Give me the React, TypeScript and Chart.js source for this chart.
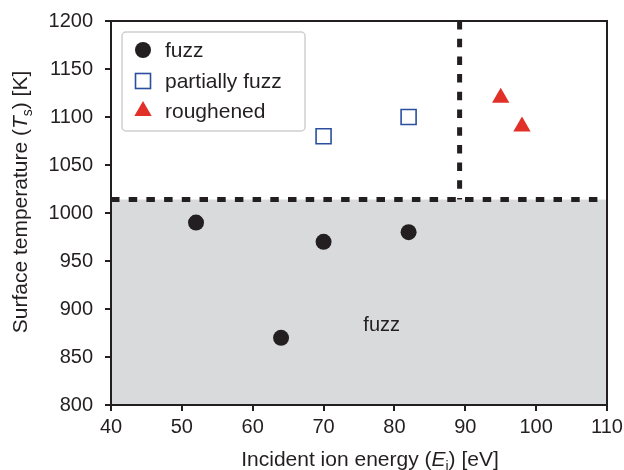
import React, { useEffect, useRef } from "react";
import { Chart, registerables } from "chart.js";

Chart.register(...registerables);

// ---- data ----
const fuzzEnergy = [52, 64, 70, 82];
const fuzzTemp = [990, 870, 970, 980];
const partialEnergy = [70, 82];
const partialTemp = [1080, 1100];
const roughEnergy = [95, 98];
const roughTemp = [1120, 1090];

const seriesLabels = ["fuzz", "partially fuzz", "roughened"];
const xTickValues = [40, 50, 60, 70, 80, 90, 100, 110];
const yTickValues = [800, 850, 900, 950, 1000, 1050, 1100, 1150, 1200];

const tempThreshold = 1014;
const energyThreshold = 89.2;
const regionText = "fuzz";
const regionTextAt = [78.2, 883];

const FONT = "'Liberation Sans', Arial, Helvetica, sans-serif";
const INK = "#231f20";
const BLUE = "#2b4f9e";
const RED = "#e03028";
const GRAY = "#d9dadc";

function toPts(xs: number[], ys: number[]) {
  return xs.map((x, i) => ({ x, y: ys[i] }));
}

function drawMarker(ctx: CanvasRenderingContext2D, kind: string, x: number, y: number) {
  ctx.save();
  if (kind === "circle") {
    ctx.fillStyle = INK;
    ctx.beginPath();
    ctx.arc(x, y, 8, 0, Math.PI * 2);
    ctx.fill();
  } else if (kind === "rect") {
    ctx.strokeStyle = BLUE;
    ctx.lineWidth = 1.6;
    const s = 7.5;
    ctx.strokeRect(x - s, y - s, 2 * s, 2 * s);
  } else {
    ctx.fillStyle = RED;
    const r = 10;
    ctx.beginPath();
    ctx.moveTo(x, y - r);
    ctx.lineTo(x + r * 0.866, y + r * 0.5);
    ctx.lineTo(x - r * 0.866, y + r * 0.5);
    ctx.closePath();
    ctx.fill();
  }
  ctx.restore();
}

function drawRich(
  ctx: CanvasRenderingContext2D,
  parts: { t: string; style?: string }[],
  x: number,
  y: number,
  size: number
) {
  const fontFor = (s?: string) =>
    s === "it" ? `italic ${size}px ${FONT}` : s === "sub" ? `${Math.round(size * 0.68)}px ${FONT}` : `${size}px ${FONT}`;
  let total = 0;
  for (const p of parts) {
    ctx.font = fontFor(p.style);
    total += ctx.measureText(p.t).width;
  }
  let cx = x - total / 2;
  for (const p of parts) {
    ctx.font = fontFor(p.style);
    const dy = p.style === "sub" ? size * 0.22 : 0;
    ctx.fillText(p.t, cx, y + dy);
    cx += ctx.measureText(p.t).width;
  }
}

const overlay = {
  id: "overlay",
  beforeDatasetsDraw(chart: any) {
    const { ctx, chartArea, scales } = chart;
    const xs = scales.x;
    const ys = scales.y;
    const yT = ys.getPixelForValue(tempThreshold);
    ctx.save();
    ctx.fillStyle = GRAY;
    ctx.fillRect(chartArea.left, yT, chartArea.right - chartArea.left, chartArea.bottom - yT);
    ctx.fillStyle = INK;
    ctx.font = `20px ${FONT}`;
    ctx.textAlign = "center";
    ctx.textBaseline = "middle";
    ctx.fillText(regionText, xs.getPixelForValue(regionTextAt[0]), ys.getPixelForValue(regionTextAt[1]));
    ctx.restore();
  },
  afterDatasetsDraw(chart: any) {
    const { ctx, chartArea, scales } = chart;
    const xs = scales.x;
    const ys = scales.y;
    const yT = ys.getPixelForValue(tempThreshold);
    const xE = xs.getPixelForValue(energyThreshold);
    ctx.save();
    ctx.strokeStyle = INK;
    ctx.lineWidth = 5;
    ctx.setLineDash([8.5, 9.2]);
    ctx.beginPath();
    ctx.moveTo(chartArea.left, yT);
    ctx.lineTo(chartArea.right, yT);
    ctx.stroke();
    ctx.beginPath();
    ctx.moveTo(xE, chartArea.top);
    ctx.lineTo(xE, yT);
    ctx.stroke();
    ctx.setLineDash([]);
    ctx.lineWidth = 2;
    ctx.strokeRect(chartArea.left, chartArea.top, chartArea.right - chartArea.left, chartArea.bottom - chartArea.top);

    // legend
    const bx = chartArea.left + 11;
    const by = chartArea.top + 11;
    const bw = 183;
    const bh = 99;
    ctx.fillStyle = "rgba(255,255,255,0.9)";
    ctx.strokeStyle = "#cfcfcf";
    ctx.lineWidth = 1.5;
    ctx.beginPath();
    (ctx as any).roundRect(bx, by, bw, bh, 4);
    ctx.fill();
    ctx.stroke();
    const kinds = ["circle", "rect", "triangle"];
    const rowY = [by + 18, by + 49, by + 79];
    ctx.font = `21px ${FONT}`;
    ctx.textAlign = "left";
    ctx.textBaseline = "middle";
    for (let i = 0; i < kinds.length; i++) {
      drawMarker(ctx, kinds[i], bx + 21, rowY[i]);
      ctx.fillStyle = INK;
      ctx.fillText(seriesLabels[i], bx + 43, rowY[i] + 1);
    }

    // axis titles
    ctx.fillStyle = INK;
    ctx.textAlign = "left";
    ctx.textBaseline = "alphabetic";
    drawRich(
      ctx,
      [
        { t: "Incident ion energy (" },
        { t: "E", style: "it" },
        { t: "i", style: "sub" },
        { t: ") [eV]" },
      ],
      (chartArea.left + chartArea.right) / 2 + 11,
      466,
      21
    );
    ctx.save();
    ctx.translate(27, 202);
    ctx.rotate(-Math.PI / 2);
    drawRich(
      ctx,
      [
        { t: "Surface temperature (" },
        { t: "T", style: "it" },
        { t: "s", style: "sub" },
        { t: ") [K]" },
      ],
      0,
      0,
      21
    );
    ctx.restore();
    ctx.restore();
  },
};

export default function App() {
  const ref = useRef<HTMLCanvasElement | null>(null);
  useEffect(() => {
    document.body.style.margin = "0";
    const canvas = ref.current;
    if (!canvas) return;
    const chart = new Chart(canvas, {
      type: "scatter",
      data: {
        datasets: [
          {
            label: seriesLabels[0],
            data: toPts(fuzzEnergy, fuzzTemp),
            pointStyle: "circle",
            pointRadius: 8,
            backgroundColor: INK,
            borderColor: INK,
            borderWidth: 0,
          },
          {
            label: seriesLabels[1],
            data: toPts(partialEnergy, partialTemp),
            pointStyle: "rect",
            pointRadius: 10.6,
            backgroundColor: "rgba(0,0,0,0)",
            borderColor: BLUE,
            borderWidth: 1.6,
          },
          {
            label: seriesLabels[2],
            data: toPts(roughEnergy, roughTemp),
            pointStyle: "triangle",
            pointRadius: 10,
            backgroundColor: RED,
            borderColor: RED,
            borderWidth: 0,
          },
        ],
      },
      options: {
        animation: false,
        responsive: false,
        layout: { padding: { left: 0, right: 17, top: 21, bottom: 0 } },
        plugins: { legend: { display: false }, tooltip: { enabled: false } },
        scales: {
          x: {
            type: "linear",
            min: xTickValues[0],
            max: xTickValues[xTickValues.length - 1],
            afterBuildTicks: (s: any) => {
              s.ticks = xTickValues.map((v) => ({ value: v }));
            },
            afterFit: (s: any) => {
              s.height = 65;
              s.paddingLeft = 0;
              s.paddingRight = 0;
            },
            grid: { drawOnChartArea: false, drawTicks: true, tickLength: 6, color: INK, lineWidth: 2 },
            border: { display: true, color: INK, width: 2 },
            ticks: {
              color: INK,
              font: { family: FONT, size: 20 },
              padding: 4,
              maxRotation: 0,
              callback: (v: any) => String(v),
            },
          },
          y: {
            type: "linear",
            min: yTickValues[0],
            max: yTickValues[yTickValues.length - 1],
            afterBuildTicks: (s: any) => {
              s.ticks = yTickValues.map((v) => ({ value: v }));
            },
            afterFit: (s: any) => {
              s.width = 111;
              s.paddingTop = 0;
              s.paddingBottom = 0;
            },
            grid: { drawOnChartArea: false, drawTicks: true, tickLength: 6, color: INK, lineWidth: 2 },
            border: { display: true, color: INK, width: 2 },
            ticks: {
              color: INK,
              font: { family: FONT, size: 20 },
              padding: 12,
              callback: (v: any) => String(v),
            },
          },
        },
      },
      plugins: [overlay],
    });
    return () => chart.destroy();
  }, []);
  return (
    <div style={{ width: 624, height: 470, background: "#fff" }}>
      <canvas ref={ref} width={624} height={470} style={{ display: "block" }} />
    </div>
  );
}
